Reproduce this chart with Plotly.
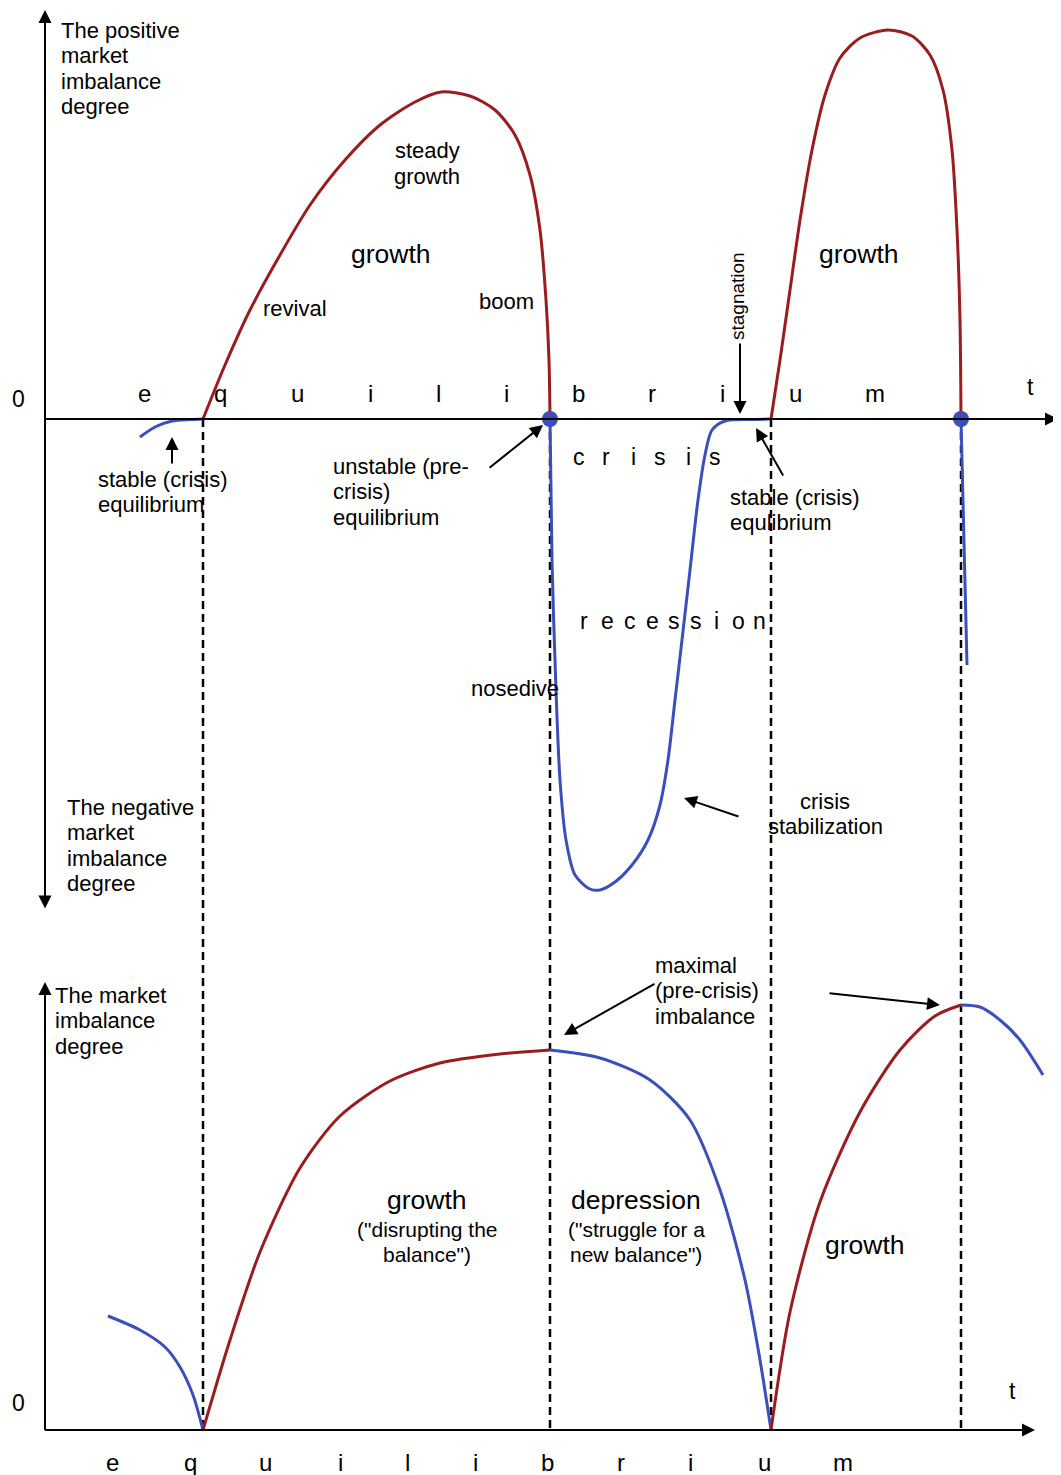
import plotly.graph_objects as go

# ---------------- data (pixel-like units) ----------------
# Top panel: zero line at y=419 (screen units, downwards positive)
top_blue_start_x = [140, 155, 172, 190, 203]
top_blue_start_y = [437, 427, 421, 419.5, 419]

top_red_growth1_x = [203, 225, 250, 280, 310, 345, 380, 415, 441, 470, 495, 515, 530, 540, 546, 549, 550]
top_red_growth1_y = [419, 365, 310, 255, 205, 160, 125, 102, 92, 96, 110, 135, 175, 230, 300, 360, 419]

top_blue_crisis_x = [550, 552, 556, 560, 566, 575, 590, 600, 615, 632, 648, 660, 668, 675, 682, 690, 698, 705, 712, 725, 750, 771]
top_blue_crisis_y = [419, 560, 690, 780, 840, 875, 889, 890, 882, 865, 840, 805, 760, 700, 640, 570, 500, 455, 430, 421, 419.5, 419]

top_red_growth2_x = [771, 780, 790, 800, 812, 825, 840, 860, 888, 912, 930, 943, 952, 957, 960, 961]
top_red_growth2_y = [419, 360, 290, 220, 150, 95, 58, 38, 30, 36, 55, 90, 150, 230, 320, 419]

top_blue_end_x = [961, 967]
top_blue_end_y = [419, 665]

equilibrium_points_x = [550, 961]
equilibrium_points_y = [419, 419]

# Bottom panel: zero line at y=1430
bot_blue_start_x = [108, 140, 165, 180, 193, 203]
bot_blue_start_y = [1316, 1330, 1347, 1367, 1395, 1430]

bot_red_growth1_x = [203, 230, 260, 300, 340, 390, 440, 500, 550]
bot_red_growth1_y = [1430, 1340, 1252, 1168, 1116, 1081, 1063, 1054, 1050]

bot_blue_depr_x = [550, 600, 650, 690, 720, 745, 760, 771]
bot_blue_depr_y = [1050, 1058, 1080, 1120, 1190, 1280, 1360, 1430]

bot_red_growth2_x = [771, 790, 820, 860, 900, 935, 961]
bot_red_growth2_y = [1430, 1312, 1202, 1112, 1050, 1016, 1005]

bot_blue_end_x = [961, 980, 1000, 1020, 1043]
bot_blue_end_y = [1005, 1007, 1020, 1040, 1075]

phase_boundaries_x = [203, 550, 771, 961]

eq_letters = ["e", "q", "u", "i", "l", "i", "b", "r", "i", "u", "m"]
top_letter_x = [144, 220, 297, 370, 438, 506, 578, 652, 722, 795, 875]
bot_letter_x = [112, 190, 265, 340, 407, 475, 547, 621, 690, 764, 843]

crisis_letters = ["c", "r", "i", "s", "i", "s"]
crisis_letter_x = [579, 606, 633, 660, 688, 715]

recession_letters = ["r", "e", "c", "e", "s", "s", "i", "o", "n"]
recession_letter_x = [584, 607, 630, 652, 674, 696, 716, 738, 759]

# ---------------- styling ----------------
RED = "#9a1c1f"
BLUE = "#3a4fbb"
FONT = "Liberation Sans, Arial, sans-serif"
LW = 3
PAGE_OFFSET = 8  # default body margin of the html page

fig = go.Figure()

def curve(xs, ys, color):
    fig.add_trace(go.Scatter(x=xs, y=ys, mode="lines",
                             line=dict(color=color, width=LW, shape="spline", smoothing=0.8),
                             hoverinfo="skip", showlegend=False))

# dashed phase boundaries
for xb in phase_boundaries_x:
    fig.add_shape(type="line", x0=xb, x1=xb, y0=419, y1=1430, xref="x", yref="y",
                  line=dict(color="black", width=2.5, dash="8px,5px"), layer="below")

# axes lines
fig.add_shape(type="line", x0=45, x1=1050, y0=419, y1=419, line=dict(color="black", width=2))
fig.add_shape(type="line", x0=45, x1=1030, y0=1430, y1=1430, line=dict(color="black", width=2))
fig.add_shape(type="line", x0=45, x1=45, y0=1430, y1=990, line=dict(color="black", width=2))

curve(top_blue_start_x, top_blue_start_y, BLUE)
curve(top_red_growth1_x, top_red_growth1_y, RED)
curve(top_blue_crisis_x, top_blue_crisis_y, BLUE)
curve(top_red_growth2_x, top_red_growth2_y, RED)
curve(top_blue_end_x, top_blue_end_y, BLUE)
curve(bot_blue_start_x, bot_blue_start_y, BLUE)
curve(bot_red_growth1_x, bot_red_growth1_y, RED)
curve(bot_blue_depr_x, bot_blue_depr_y, BLUE)
curve(bot_red_growth2_x, bot_red_growth2_y, RED)
curve(bot_blue_end_x, bot_blue_end_y, BLUE)

fig.add_trace(go.Scatter(x=equilibrium_points_x, y=equilibrium_points_y, mode="markers",
                         marker=dict(color=BLUE, size=16, line=dict(width=0)),
                         hoverinfo="skip", showlegend=False))

annotations = []

def arrow(x0, y0, x1, y1, both=False, width=2, head=1.3):
    annotations.append(dict(x=x1, y=y1, ax=x0, ay=y0, xref="x", yref="y", axref="x", ayref="y",
                            text="", showarrow=True, arrowhead=2, arrowsize=head, arrowwidth=width,
                            arrowcolor="black", arrowside="end+start" if both else "end",
                            startarrowhead=2, startarrowsize=head))

def text(s, x, y, size=22, anchor="left"):
    if anchor == "left":
        x = x - 2  # compensate annotation padding
    annotations.append(dict(x=x, y=y, xref="x", yref="y", text=s, showarrow=False,
                            xanchor=anchor, yanchor="middle",
                            font=dict(family=FONT, size=size, color="black")))

def block(lines, x, y0, dy=25.5, size=22, anchor="left"):
    for i, s in enumerate(lines):
        text(s, x, y0 + i * dy, size, anchor)

# axis arrows
arrow(45, 910, 45, 10, both=True)
arrow(45, 419, 1058, 419)
arrow(45, 1430, 45, 982)
arrow(45, 1430, 1035, 1430)

# axis labels
text("0", 18, 399, 23, "center")
text("t", 1030, 387, 23, "center")
text("0", 18, 1403, 23, "center")
text("t", 1012, 1391, 23, "center")

for L, xl in zip(eq_letters, top_letter_x):
    text(L, xl, 393, 24, "center")
for L, xl in zip(eq_letters, bot_letter_x):
    text(L, xl, 1462, 24, "center")
for L, xl in zip(crisis_letters, crisis_letter_x):
    text(L, xl, 457, 23, "center")
for L, xl in zip(recession_letters, recession_letter_x):
    text(L, xl, 621, 23, "center")

# top panel texts
block(["The positive", "market", "imbalance", "degree"], 61, 30)
block(["steady", "growth"], 427, 150, 26, 22, "center")
text("growth", 391, 254, 26.5, "center")
text("revival", 295, 308, 22, "center")
text("boom", 506, 301, 22, "center")
text("growth", 859, 254, 26.5, "center")
annotations.append(dict(x=737, y=296, xref="x", yref="y", text="stagnation", showarrow=False,
                        textangle=-90, xanchor="center", yanchor="middle",
                        font=dict(family=FONT, size=19, color="black")))
arrow(740, 342, 740, 414)
block(["stable (crisis)", "equilibrium"], 98, 479)
arrow(172, 465, 172, 437)
block(["unstable (pre-", "crisis)", "equilibrium"], 333, 466)
arrow(488, 469, 543, 425)
block(["stable (crisis)", "equlibrium"], 730, 497)
arrow(784, 477, 756, 428)
text("nosedive", 515, 688, 22, "center")
block(["crisis", "stabilization"], 825, 801, 25.5, 22, "center")
arrow(740, 817, 684, 798)
block(["The negative", "market", "imbalance", "degree"], 67, 807)

# bottom panel texts
block(["The market", "imbalance", "degree"], 55, 995)
block(["maximal", "(pre-crisis)", "imbalance"], 655, 965)
arrow(656, 983, 564, 1035)
arrow(828, 993, 940, 1005)
text("growth", 427, 1200, 26.5, "center")
block(["(\"disrupting the", "balance\")"], 427, 1229, 25, 21, "center")
text("depression", 636, 1200, 26.5, "center")
block(["(\"struggle for a", "new balance\")"], 636, 1229, 25, 21, "center")
text("growth", 865, 1245, 26.5, "center")

W, H = 1061, 1475
fig.update_layout(
    width=W - PAGE_OFFSET, height=H - PAGE_OFFSET,
    margin=dict(l=0, r=0, t=0, b=0),
    paper_bgcolor="white", plot_bgcolor="white",
    xaxis=dict(range=[PAGE_OFFSET, W], visible=False, fixedrange=True),
    yaxis=dict(range=[H, PAGE_OFFSET], visible=False, fixedrange=True),
    annotations=annotations,
    showlegend=False,
)

fig.write_html("out.html")
